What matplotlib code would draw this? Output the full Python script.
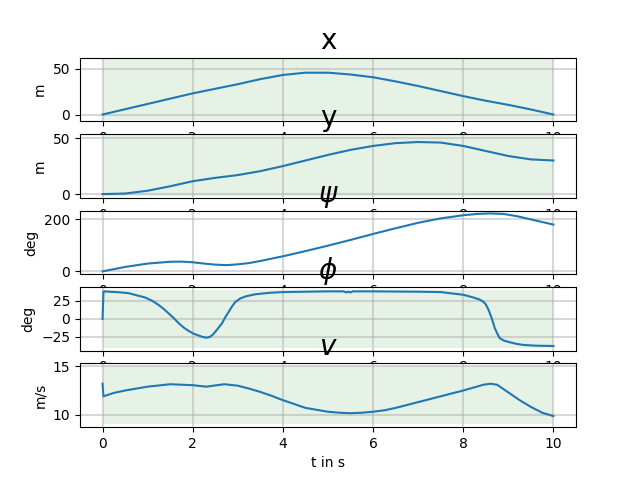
#!/usr/bin/env python
"""
Trajectory states over time: x, y, psi, phi, v with allowed ranges shaded.

- Writes: out.png
"""

import matplotlib
matplotlib.use("Agg")
import matplotlib.pyplot as plt

# x position [m]
t_x = [0, 1, 2, 3, 3.5, 4, 4.5, 5, 5.5, 6, 6.5, 7, 7.5, 8, 8.5, 9, 9.5, 10]
x_vals = [0, 11.5, 23, 33, 38.5, 43, 45.5, 45.5, 43.5, 40.5, 36, 31, 25.5,
          20, 15, 10.5, 5.5, 0]

# y position [m]
t_y = [0, 0.5, 1, 1.5, 2, 2.5, 3, 3.5, 4, 4.5, 5, 5.5, 6, 6.5, 7, 7.5, 8,
       8.5, 9, 9.5, 10]
y_vals = [0, 0.5, 3, 7, 11.5, 14.5, 17, 20.5, 25, 30, 35, 39.5, 43, 45.5,
          46.5, 46, 43, 38.5, 34, 31, 30]

# heading psi [deg]
t_psi = [0, 0.5, 1, 1.5, 1.75, 2, 2.25, 2.5, 2.75, 3, 3.25, 3.5, 4, 4.5, 5,
         5.5, 6, 6.5, 7, 7.5, 8, 8.3, 8.6, 8.9, 9.2, 9.5, 10]
psi_vals = [0, 17, 30, 37, 37.5, 35, 30, 26, 24, 27, 32, 40, 58, 78, 99, 121,
            144, 166, 187, 204, 216, 221, 223, 221, 212, 200, 180]

# steering phi [deg]
t_phi = [0, 0.02, 0.3, 0.57, 0.94, 1.1, 1.24, 1.35, 1.46, 1.58, 1.69, 1.8,
         1.91, 2.02, 2.13, 2.22, 2.3, 2.38, 2.46, 2.55, 2.65, 2.72, 2.8,
         2.87, 2.94, 3.05, 3.17, 3.39, 3.7, 4, 5, 5.35, 5.4, 5.45, 5.5,
         5.55, 6, 7, 7.5, 8, 8.22, 8.35, 8.44, 8.5, 8.56, 8.63, 8.7, 8.76,
         8.81, 8.9, 9.04, 9.18, 9.33, 9.6, 10]
phi_vals = [0, 38, 37, 35.6, 29.6, 25, 19.4, 14, 7.9, 1, -6, -12, -16.7,
            -20.5, -23, -25, -26, -25, -21, -14, -6, 2, 10, 17, 23, 28, 31,
            34, 36, 37, 38, 38, 36.5, 37.5, 36.5, 38, 38, 37.5, 37, 33.3,
            29.6, 27, 24, 20, 12.5, 1, -13, -21, -26.8, -30, -32.4, -34.5,
            -36, -37, -37.5]

# velocity v [m/s]
t_v = [0, 0.02, 0.25, 0.5, 1, 1.5, 2, 2.3, 2.7, 3, 3.25, 3.5, 3.75, 4,
       4.25, 4.5, 4.75, 5, 5.25, 5.5, 5.75, 6, 6.25, 6.5, 7, 7.5, 8, 8.3,
       8.45, 8.6, 8.75, 9, 9.25, 9.5, 9.75, 10]
v_vals = [13.2, 11.9, 12.25, 12.5, 12.9, 13.15, 13.05, 12.9, 13.15, 13.0,
          12.7, 12.35, 11.95, 11.5, 11.1, 10.7, 10.5, 10.3, 10.2, 10.15,
          10.2, 10.3, 10.45, 10.7, 11.3, 11.9, 12.5, 12.9, 13.1, 13.2, 13.1,
          12.3, 11.5, 10.8, 10.2, 9.85]

# shaded bounds (lower, upper) per state, None = no bounds
t_bounds = [0, 10]
x_bounds = (-6.5, 61)
y_bounds = (-1.8, 53)
phi_bounds = (-40, 40)
v_bounds = (9, 15)

titles = ["x", "y", r"$\psi$", r"$\phi$", r"$v$"]
ylabels = ["m", "m", "deg", "deg", "m/s"]


def main():
    fig, axes = plt.subplots(5, 1, figsize=(6.4, 4.8), dpi=100)

    series = [
        (t_x, x_vals, x_bounds, (-7.4, 61.9)),
        (t_y, y_vals, y_bounds, (-3.3, 53.6)),
        (t_psi, psi_vals, None, None),
        (t_phi, phi_vals, phi_bounds, None),
        (t_v, v_vals, v_bounds, None),
    ]

    for ax, (t, vals, bounds, ylim), title, ylabel in zip(
            axes, series, titles, ylabels):
        if bounds is not None:
            ax.fill_between(t_bounds, [bounds[0]] * 2, [bounds[1]] * 2,
                            color="green", alpha=0.1, linewidth=0)
        ax.plot(t, vals, color="C0")
        ax.grid(linewidth=1.5, alpha=0.5)
        ax.set_title(title, fontsize=20)
        ax.set_ylabel(ylabel)
        if ylim is not None:
            ax.set_ylim(*ylim)

    axes[-1].set_xlabel("t in s")

    fig.savefig("out.png", dpi=100)
    plt.close(fig)


if __name__ == "__main__":
    main()
